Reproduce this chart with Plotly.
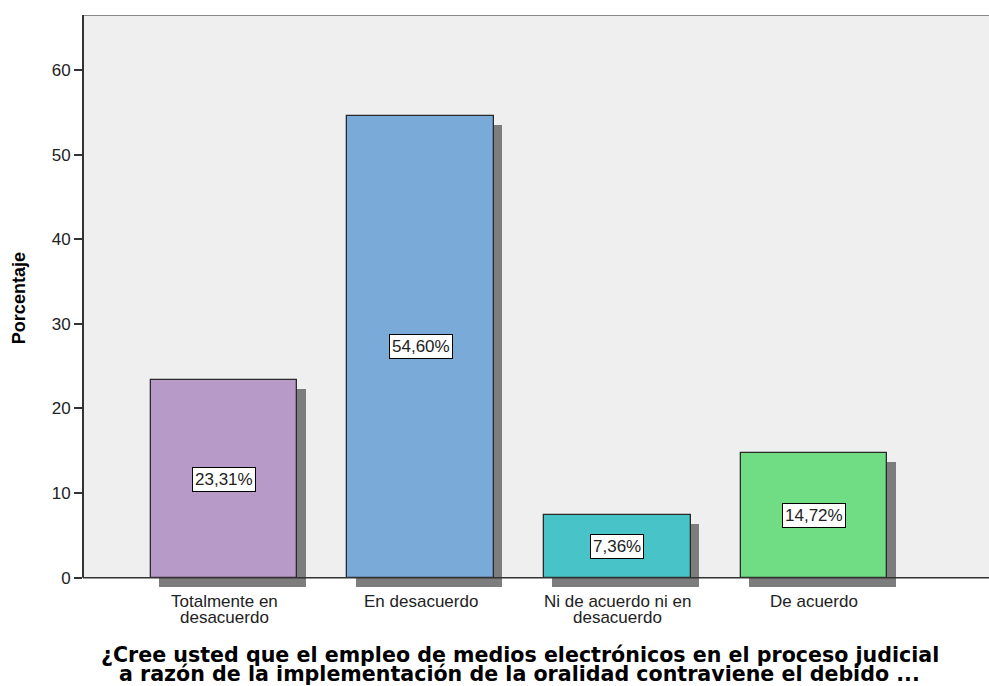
import plotly.graph_objects as go

# ---- data ----
categories = ["Totalmente en desacuerdo", "En desacuerdo",
              "Ni de acuerdo ni en desacuerdo", "De acuerdo"]
tick_lines = [["Totalmente en", "desacuerdo"], ["En desacuerdo"],
              ["Ni de acuerdo ni en", "desacuerdo"], ["De acuerdo"]]
percent = [23.31, 54.60, 7.36, 14.72]
value_labels = ["23,31%", "54,60%", "7,36%", "14,72%"]
bar_colors = ["#b89ac8", "#7aaad8", "#48c4c8", "#70dc84"]
y_tick_vals = [0, 10, 20, 30, 40, 50, 60]
y_title = "Porcentaje"
x_title_lines = ["¿Cree usted que el empleo de medios electrónicos en el proceso judicial",
                 "a razón de la implementación de la oralidad contraviene el debido ..."]

# ---- style ----
Y_MIN, Y_MAX = -1.1, 66.5
X_RANGE = [-0.717, 3.89]
BAR_W = 0.746
SHADOW_DX = 0.043
SHADOW_DY = 1.05
TICK_FONT = dict(family="Liberation Sans, Arial, sans-serif", size=17, color="#222222")
TITLE_FONT = dict(family="DejaVu Sans, sans-serif", size=20.6, color="#000000")

fig = go.Figure()

# shadows
fig.add_trace(go.Bar(
    x=categories, y=percent, base=-SHADOW_DY, width=BAR_W,
    offset=-BAR_W / 2 + SHADOW_DX,
    marker=dict(color="#7d7d7d", line=dict(width=0)),
    hoverinfo="skip", showlegend=False,
))
# bars
fig.add_trace(go.Bar(
    x=categories, y=percent, width=BAR_W, offset=-BAR_W / 2,
    marker=dict(color=bar_colors, line=dict(color="#2a2a2a", width=1.3)),
    showlegend=False,
))

shapes = [
    dict(type="rect", xref="x domain", yref="y", x0=0, x1=1, y0=0, y1=Y_MAX,
         fillcolor="#efefef", line=dict(width=0), layer="below"),
    dict(type="line", xref="x domain", yref="y", x0=0, x1=1, y0=Y_MAX, y1=Y_MAX,
         line=dict(color="#888888", width=2), layer="above"),
    dict(type="line", xref="x domain", yref="y", x0=0, x1=1, y0=0, y1=0,
         line=dict(color="#333333", width=1.5), layer="above"),
    dict(type="line", xref="x domain", yref="y", x0=0, x1=0, y0=0, y1=Y_MAX,
         line=dict(color="#333333", width=2), layer="above"),
]

annotations = []
for cat, v, lab in zip(categories, percent, value_labels):
    annotations.append(dict(
        x=cat, y=v / 2, xref="x", yref="y", text=lab, showarrow=False,
        font=TICK_FONT, bgcolor="#ffffff", bordercolor="#000000",
        borderwidth=1, borderpad=2,
    ))
for cat, lines in zip(categories, tick_lines):
    for i, line in enumerate(lines):
        annotations.append(dict(
            x=cat, y=0, xref="x", yref="paper", text=line, showarrow=False,
            font=TICK_FONT, yanchor="middle", yshift=-14 - 16 * i,
        ))
for i, line in enumerate(x_title_lines):
    annotations.append(dict(
        x=0.482, y=0, xref="paper", yref="paper", text="<b>" + line + "</b>",
        showarrow=False, font=TITLE_FONT, yanchor="middle", xanchor="center",
        yshift=-68 - 19 * i,
    ))
annotations.append(dict(
    x=0, y=0.505, xref="paper", yref="paper", text="<b>" + y_title + "</b>",
    showarrow=False, textangle=-90, xshift=-64, xanchor="center", yanchor="middle",
    font=dict(family="Liberation Sans, Arial, sans-serif", size=18, color="#000000"),
))

fig.update_layout(
    width=989, height=686,
    margin=dict(l=83, r=0, t=15, b=99),
    paper_bgcolor="#ffffff", plot_bgcolor="#ffffff",
    barmode="overlay", bargap=0,
    shapes=shapes, annotations=annotations,
    xaxis=dict(type="category", range=X_RANGE, showticklabels=False, ticks="",
               showgrid=False, zeroline=False, showline=False, fixedrange=True),
    yaxis=dict(range=[Y_MIN, Y_MAX], tickvals=y_tick_vals, ticks="outside",
               ticklen=8, tickwidth=1.5, tickcolor="#333333", tickfont=TICK_FONT,
               showgrid=False, zeroline=False, showline=False, fixedrange=True),
)

fig.write_html("out.html", config={"displayModeBar": False},
               post_script="document.body.style.margin='0';document.body.style.overflow='hidden';")
